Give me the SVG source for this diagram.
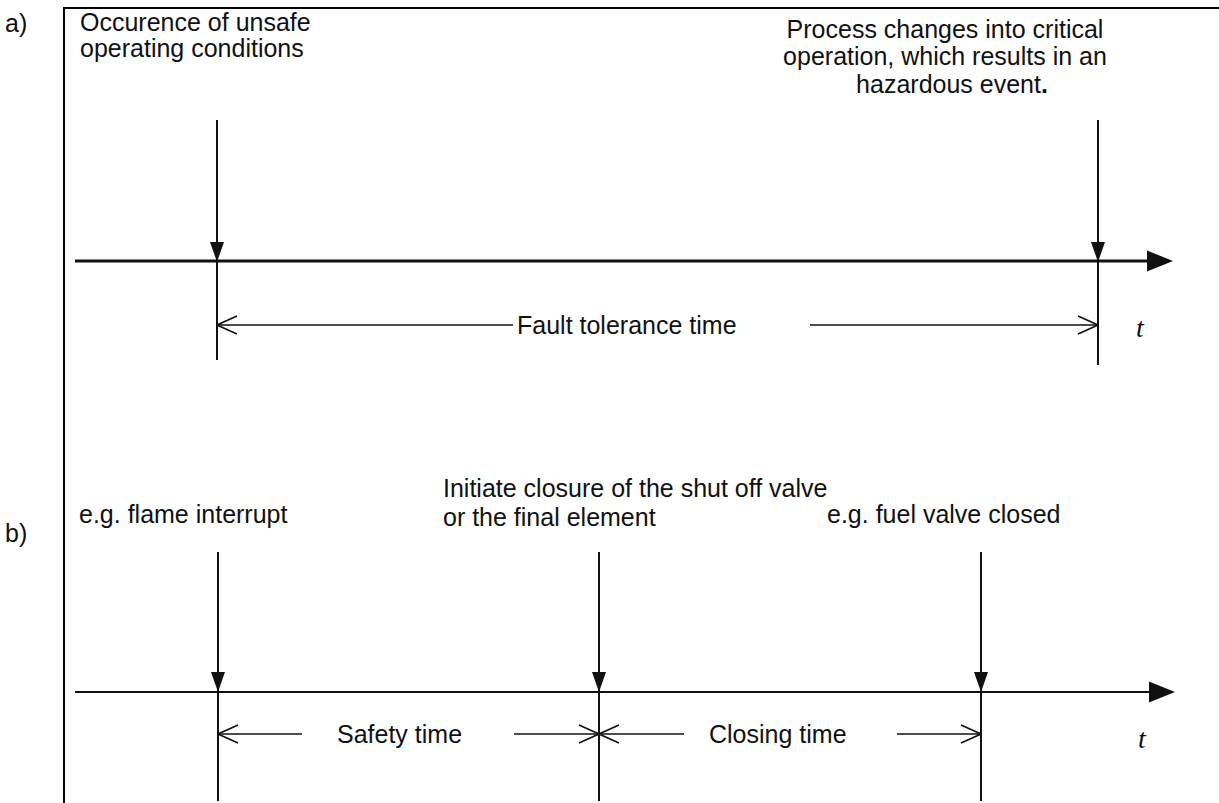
<svg xmlns="http://www.w3.org/2000/svg" width="1219" height="803" viewBox="0 0 1219 803">
  <style>
    .lbl { font-family: "Liberation Sans", Arial, sans-serif; font-size: 25px; fill: #111; }
    .tvar { font-family: "Liberation Serif", "Times New Roman", serif; font-style: italic; font-size: 28px; fill: #111; }
    .frame { stroke: #000; stroke-width: 2; fill: none; }
    .axis { stroke: #111; fill: none; }
    .event { stroke: #111; stroke-width: 2; fill: none; }
    .dim { stroke: #111; stroke-width: 1.6; fill: none; }
    .head { fill: #111; stroke: none; }
  </style>
  <defs>
    <marker id="open" viewBox="0 0 22 20" refX="21" refY="10" markerWidth="22" markerHeight="20" markerUnits="userSpaceOnUse" orient="auto-start-reverse">
      <path d="M1,1 L21,10 L1,19" fill="none" stroke="#111" stroke-width="1.6"/>
    </marker>
  </defs>

  <rect width="1219" height="803" fill="#fff"/>

  <!-- frame around both timelines -->
  <path class="frame" d="M64,803 V8 H1219"/>

  <text class="lbl" x="5" y="32">a)</text>
  <text class="lbl" x="5" y="542">b)</text>

  <!-- a) fault tolerance time -->
  <g id="event-unsafe">
    <text class="lbl" x="80" y="31">Occurence of unsafe</text>
    <text class="lbl" x="80" y="57">operating conditions</text>
  </g>
  <g id="event-hazard">
    <text class="lbl" x="945" y="38" text-anchor="middle">Process changes into critical</text>
    <text class="lbl" x="945" y="65" text-anchor="middle">operation, which results in an</text>
    <text class="lbl" x="952" y="93" text-anchor="middle">hazardous event<tspan font-weight="bold">.</tspan></text>
  </g>
  <g id="label-fault-tolerance">
    <text class="lbl" x="517" y="334">Fault tolerance time</text>
  </g>
  <text class="tvar" x="1136" y="337">t</text>

  <!-- b) safety time and closing time -->
  <g id="event-flame">
    <text class="lbl" x="79" y="523">e.g. flame interrupt</text>
  </g>
  <g id="event-initiate">
    <text class="lbl" x="443" y="497">Initiate closure of the shut off valve</text>
    <text class="lbl" x="443" y="526">or the final element</text>
  </g>
  <g id="event-closed">
    <text class="lbl" x="827" y="523">e.g. fuel valve closed</text>
  </g>
  <g id="label-safety">
    <text class="lbl" x="337" y="743">Safety time</text>
  </g>
  <g id="label-closing">
    <text class="lbl" x="709" y="743">Closing time</text>
  </g>
  <text class="tvar" x="1138" y="748">t</text>

  <g id="connectors">
    <!-- time axis a -->
    <line class="axis" x1="75" y1="261" x2="1150" y2="261" stroke-width="2.8"/>
    <polygon class="head" points="1147,250.5 1173,261 1147,271.5"/>
    <!-- event lines a -->
    <line class="event" x1="217" y1="120" x2="217" y2="360"/>
    <polygon class="head" points="210,242 224,242 217,262"/>
    <line class="event" x1="1098" y1="120" x2="1098" y2="365"/>
    <polygon class="head" points="1091,242 1105,242 1098,262"/>
    <!-- fault tolerance dimension -->
    <line class="dim" x1="217" y1="325" x2="513" y2="325" marker-start="url(#open)"/>
    <line class="dim" x1="810" y1="325" x2="1098" y2="325" marker-end="url(#open)"/>

    <!-- time axis b -->
    <line class="axis" x1="75" y1="692" x2="1152" y2="692" stroke-width="2.2"/>
    <polygon class="head" points="1149,681.5 1175,692 1149,702.5"/>
    <!-- event lines b -->
    <line class="event" x1="218" y1="552" x2="218" y2="801"/>
    <polygon class="head" points="211,672 225,672 218,692"/>
    <line class="event" x1="599" y1="552" x2="599" y2="801"/>
    <polygon class="head" points="592,672 606,672 599,692"/>
    <line class="event" x1="981" y1="552" x2="981" y2="801"/>
    <polygon class="head" points="974,672 988,672 981,692"/>
    <!-- safety time dimension -->
    <line class="dim" x1="218" y1="734" x2="302" y2="734" marker-start="url(#open)"/>
    <line class="dim" x1="514" y1="734" x2="599" y2="734" marker-end="url(#open)"/>
    <!-- closing time dimension -->
    <line class="dim" x1="599" y1="734" x2="684" y2="734" marker-start="url(#open)"/>
    <line class="dim" x1="897" y1="734" x2="981" y2="734" marker-end="url(#open)"/>
  </g>
</svg>
